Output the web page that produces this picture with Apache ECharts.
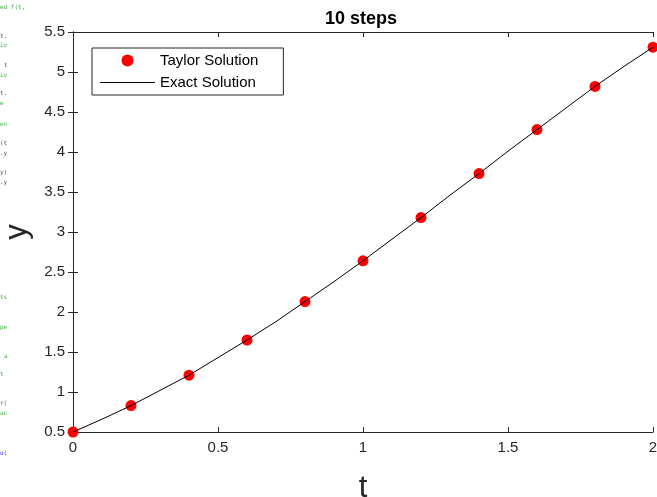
<!DOCTYPE html>
<html>
<head>
<meta charset="utf-8">
<script src="https://cdn.jsdelivr.net/npm/echarts@6/dist/echarts.min.js"></script>
<style>
  html, body { margin: 0; padding: 0; background: #fff; }
  #main { width: 657px; height: 497px; }
</style>
</head>
<body>
<div id="main"></div>
<script>
// values
var taylorT = [0, 0.2, 0.4, 0.6, 0.8, 1.0, 1.2, 1.4, 1.6, 1.8, 2.0];
var taylorY = [0.5, 0.83, 1.21, 1.65, 2.13, 2.64, 3.18, 3.73, 4.28, 4.82, 5.31];

var exactT = [0, 0.1, 0.2, 0.3, 0.4, 0.5, 0.6, 0.7, 0.8, 0.9, 1.0,
              1.1, 1.2, 1.3, 1.4, 1.5, 1.6, 1.7, 1.8, 1.9, 2.0];
var exactY = [0.5, 0.66, 0.83, 1.02, 1.21, 1.43, 1.65, 1.88, 2.13, 2.38, 2.64,
              2.91, 3.18, 3.46, 3.73, 4.01, 4.28, 4.55, 4.82, 5.07, 5.31];

var xTicks = ['0', '0.5', '1', '1.5', '2'];

// scraps of editor text visible at the left edge
var scraps = [
  ['ed f(t,', 0, 4, '#3cb043'], ['t.', 0, 33, '#555'], ['iv', 0, 42, '#3cb043'],
  ['t', 4, 62, '#555'], ['iv', 0, 72, '#3cb043'], ['t.', 0, 90, '#555'],
  ['e', 0, 100, '#3cb043'], ['en', 0, 121, '#3cb043'], ['(t', 0, 140, '#555'],
  ['.y', 0, 150, '#555'], ['y)', 0, 169, '#555'], ['.y', 0, 179, '#555'],
  ['ts', 0, 294, '#3cb043'], ['pe', 0, 324, '#3cb043'], ['a', 4, 353, '#3cb043'],
  ['t', 0, 371, '#3cb043'], ['r(', 0, 400, '#555'], ['ac', 0, 410, '#3cb043'],
  ['o(', 0, 450, '#3b3bff']
];

function zip(a, b) {
  var out = [];
  for (var i = 0; i < a.length; i++) out.push([a[i], b[i]]);
  return out;
}

var chart = echarts.init(document.getElementById('main'));
var axisCol = '#262626';
var font = 'Liberation Sans, Arial, Helvetica, sans-serif';

var option = {
  backgroundColor: '#fff',
  animation: false,
  title: {
    text: '10 steps',
    left: 356,
    top: 5,
    textAlign: 'center',
    textStyle: { fontFamily: font, fontSize: 18, fontWeight: 'bold', color: '#000' }
  },
  grid: { left: 73, right: 4, top: 32, bottom: 65, containLabel: false, outerBoundsMode: 'none' },
  legend: {
    orient: 'vertical',
    left: 92,
    top: 48,
    padding: [5, 25, 5, 8],
    itemWidth: 55,
    itemHeight: 12,
    itemGap: 7,
    borderColor: axisCol,
    borderWidth: 1,
    backgroundColor: '#fff',
    textStyle: { fontFamily: font, fontSize: 15, color: '#000' },
    data: [
      { name: 'Taylor Solution', icon: 'circle', itemStyle: { color: '#ff0000', opacity: 1 } },
      { name: 'Exact Solution', icon: 'path://M0,0 L55,0 L55,1 L0,1 Z', itemStyle: { color: '#000' } }
    ]
  },
  xAxis: [{
    type: 'value', min: 0, max: 2, interval: 0.5,
    name: 't', nameLocation: 'middle', nameGap: 41,
    nameTextStyle: { fontFamily: font, fontSize: 31, color: '#262626' },
    axisLine: { lineStyle: { color: axisCol } },
    axisTick: { inside: true, length: 5, lineStyle: { color: axisCol } },
    axisLabel: {
      fontFamily: font, fontSize: 15, color: '#262626', margin: 8,
      formatter: function (v) { return xTicks[Math.round(v / 0.5)]; }
    },
    splitLine: { show: false }
  }, {
    type: 'value', min: 0, max: 2, interval: 0.5, position: 'top',
    axisLine: { show: true, lineStyle: { color: axisCol } },
    axisTick: { inside: true, length: 5, lineStyle: { color: axisCol } },
    axisLabel: { show: false },
    splitLine: { show: false }
  }],
  yAxis: [{
    type: 'value', min: 0.5, max: 5.5, interval: 0.5,
    name: 'y', nameLocation: 'middle', nameGap: 37, nameRotate: 90,
    nameTextStyle: { fontFamily: font, fontSize: 31, color: '#262626' },
    axisLine: { show: true, lineStyle: { color: axisCol } },
    axisTick: { show: true, inside: true, length: 5, lineStyle: { color: axisCol } },
    axisLabel: { fontFamily: font, fontSize: 15, color: '#262626', margin: 8 },
    splitLine: { show: false }
  }, {
    type: 'value', min: 0.5, max: 5.5, interval: 0.5, position: 'right',
    axisLine: { show: true, lineStyle: { color: axisCol } },
    axisTick: { show: true, inside: true, length: 5, lineStyle: { color: axisCol } },
    axisLabel: { show: false },
    splitLine: { show: false }
  }],
  graphic: scraps.map(function (s) {
    return {
      type: 'text', left: s[1], top: s[2], silent: true,
      style: { text: s[0], fill: s[3], font: '6px DejaVu Sans Mono, monospace' }
    };
  }),
  series: [{
    name: 'Taylor Solution',
    type: 'scatter',
    symbol: 'circle',
    symbolSize: 11,
    itemStyle: { color: '#ff0000', opacity: 1 },
    z: 2,
    data: zip(taylorT, taylorY)
  }, {
    name: 'Exact Solution',
    type: 'line',
    symbol: 'none',
    smooth: false,
    lineStyle: { color: '#000', width: 1 },
    itemStyle: { color: '#000' },
    z: 3,
    data: zip(exactT, exactY)
  }]
};

chart.setOption(option);
</script>
</body>
</html>
